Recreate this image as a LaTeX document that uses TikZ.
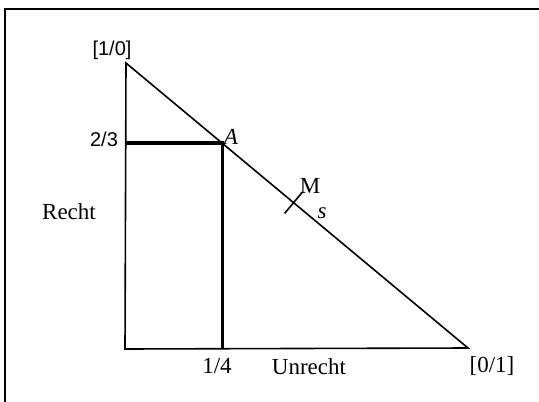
\documentclass[tikz,border=0pt]{standalone}
\usepackage{fontspec}
\setmainfont{Liberation Serif}
\newfontfamily\labelsans{Liberation Sans}
\usetikzlibrary{calc}
\tikzset{
    triline/.style={line width=1.6pt},
    projline/.style={line width=3.2pt},
    serlabel/.style={font=\fontsize{23}{26}\selectfont, inner sep=0pt},
    sanslabel/.style={font=\labelsans\fontsize{20}{23}\selectfont, inner sep=0pt}
}
\begin{document}
\begin{tikzpicture}[x=1pt, y=-1pt]
    \useasboundingbox (0,0) rectangle (539,402);
    % frame
    \draw[line width=2pt] (539,9) -- (5,9) -- (5,402);
    % triangle
    \coordinate (top) at (126,63);
    \coordinate (origin) at (125,349);
    \coordinate (right) at (468,348);
    \draw[triline] (top) -- (origin) -- (right) -- cycle;
    % point A and its projections
    \coordinate (A) at ($(top)!0.281!(right)$);
    \coordinate (Ay) at (origin |- A);
    \coordinate (Ax) at (A |- origin);
    \draw[projline] (Ay) -- (A) -- (Ax);
    % point M on the hypotenuse
    \coordinate (M) at ($(top)!0.49!(right)$);
    \draw[triline] ($(M)!14pt!90:(right)$) -- ($(M)!14pt!-90:(right)$);
    % labels
    \node[sanslabel] (toplabel) at (112,50) {[1/0]};
    \node[sanslabel] (ylabel) at (104,139) {2/3};
    \node[serlabel] (recht) at (69,212) {Recht};
    \node[serlabel] (xlabel) at (217,366) {1/4};
    \node[serlabel] (unrecht) at (309,367) {Unrecht};
    \node[serlabel] (rightlabel) at (492,366) {[0/1]};
    \node[serlabel, font=\fontsize{23}{26}\selectfont\itshape] (Alabel) at (231,137) {A};
    \node[serlabel] (Mlabel) at (310,186) {M};
    \node[serlabel, font=\fontsize{23}{26}\selectfont\itshape] (slabel) at (322,213) {s};
\end{tikzpicture}
\end{document}
